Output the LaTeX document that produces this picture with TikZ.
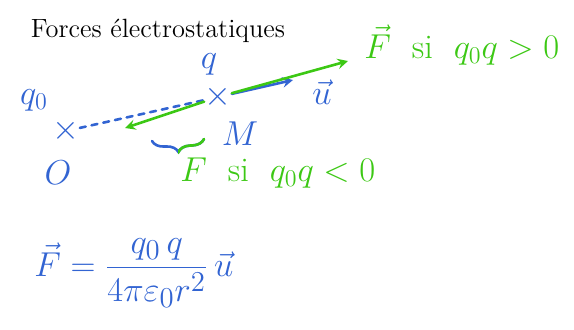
\documentclass[tikz,border=0pt]{standalone}
\usepackage{amsmath}
\usetikzlibrary{decorations.pathreplacing}
\definecolor{penblue}{RGB}{50,100,210}
\definecolor{pengreen}{RGB}{60,200,20}
\tikzset{
    blueink/.style={text=penblue, font=\LARGE, inner sep=1pt},
    greenink/.style={text=pengreen, font=\LARGE, inner sep=1pt},
    pen/.style={line width=1.3pt, line cap=round},
    arr/.style={->, >=stealth, pen}
}

\begin{document}
\begin{tikzpicture}[x=0.5pt, y=-0.5pt]
        \useasboundingbox (0,0) rectangle (574,329);

        % --- Title ---
        \node [font=\fontsize{13.2}{16}\selectfont] (title) at (158,31) {Forces électrostatiques};

        % --- Charges and points ---
        \node [blueink, inner sep=0pt] (crossO) at (66,131) {$\times$};
        \node [blueink] (qzero)  at (34,100) {$q_0$};
        \node [blueink] (origin) at (58,173) {$O$};
        \node [blueink, inner sep=0pt] (crossM) at (218,97) {$\times$};
        \node [blueink] (charge) at (209,64) {$q$};
        \node [blueink] (pointM) at (240,134) {$M$};
        \node [blueink] (unit)   at (322,92) {$\vec u$};

        \coordinate (utip)  at (293,80);
        \coordinate (Fpos)  at (348,61);
        \coordinate (Fneg)  at (125,128);

        % --- Vectors ---
        \draw [pen, penblue, dashed] (crossO) -- (crossM);
        \draw [arr, penblue] (crossM) -- (utip);
        \draw [arr, pengreen] (crossM) -- (Fpos);
        \draw [arr, pengreen] (crossM) -- (Fneg);

        % --- Distance brace ---
        \coordinate (braceL) at (152,141);
        \coordinate (braceR) at (204,139);
        \draw [pen, penblue, decorate, decoration={brace, amplitude=6pt, mirror}] (braceL) -- (braceR);
        \begin{scope}
            \clip (178,120) rectangle (215,170);
            \draw [pen, pengreen, decorate, decoration={brace, amplitude=6pt, mirror}] (braceL) -- (braceR);
        \end{scope}

        % --- Cases ---
        \node [greenink, anchor=west] (Fplus)  at (362,45)  {$\vec F$\ \ si\ \ $q_0q>0$};
        \node [greenink, anchor=west] (Fminus) at (178,173) {$F$\ \ si\ \ $q_0q<0$};

        % --- Coulomb law ---
        \node [blueink, font=\fontsize{19}{23}\selectfont, anchor=west] (law) at (32,273) {$\vec F = \dfrac{q_0\,q}{4\pi\varepsilon_0 r^2}\,\vec u$};

    \end{tikzpicture}
\end{document}
